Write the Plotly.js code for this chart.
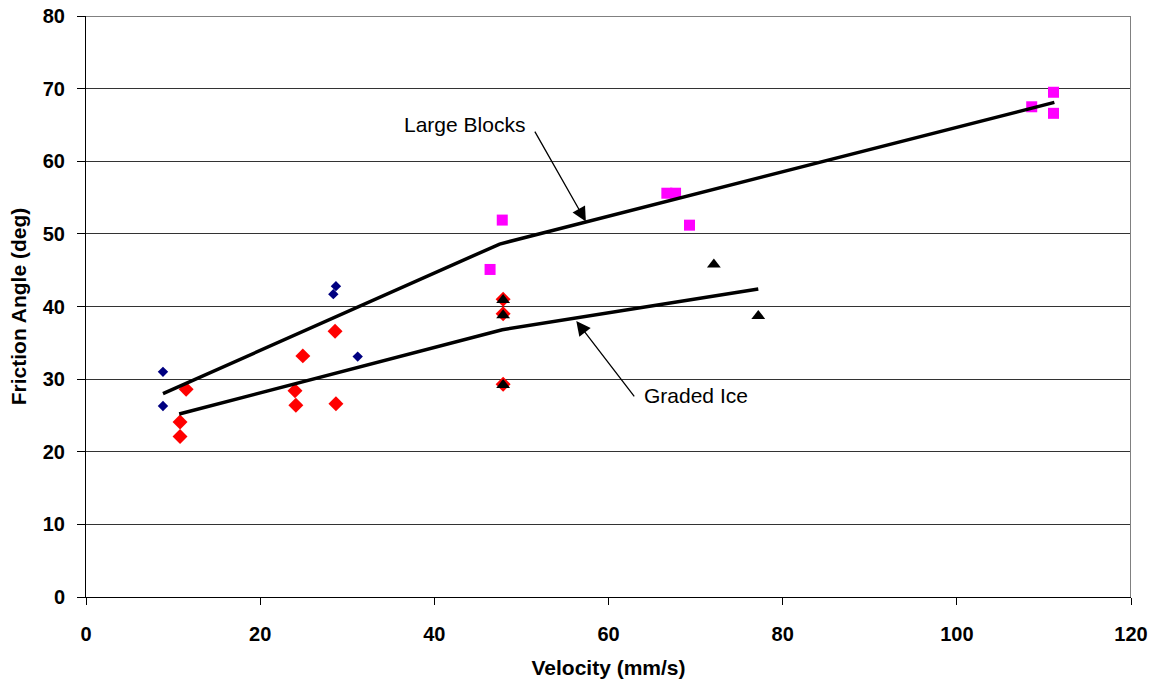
<!DOCTYPE html>
<html>
<head>
<meta charset="utf-8">
<script src="https://cdn.plot.ly/plotly-3.0.1.min.js"></script>
<style>
  html, body { margin: 0; padding: 0; background: #fff; }
  #chart { width: 1158px; height: 688px; }
</style>
</head>
<body>
<div id="chart"></div>
<script>
// Small navy diamonds
const navyX = [8.84, 8.84, 28.4, 28.7, 31.2];
const navyY = [31.0, 26.3, 41.7, 42.8, 33.1];

// Red diamonds
const redX = [11.5, 10.8, 10.8, 24.9, 24.0, 24.1, 28.6, 28.7, 47.9, 47.9, 47.9];
const redY = [28.6, 24.1, 22.1, 33.2, 28.4, 26.4, 36.6, 26.6, 41.0, 39.0, 29.3];

// Black triangles
const triX = [47.9, 47.9, 47.9, 72.1, 77.2];
const triY = [40.9, 38.8, 29.2, 45.8, 38.7];

// Magenta squares
const magX = [47.8, 46.4, 66.7, 67.7, 69.3, 108.6, 111.1, 111.1];
const magY = [51.9, 45.1, 55.6, 55.6, 51.2, 67.5, 69.5, 66.6];

// Trend lines
const blocksLineX = [8.84, 47.5, 111.2];
const blocksLineY = [28.0, 48.6, 68.1];
const gradedLineX = [10.7, 47.8, 77.2];
const gradedLineY = [25.2, 36.8, 42.4];

// Axis ticks
const xTicks = [0, 20, 40, 60, 80, 100, 120];
const yTicks = [0, 10, 20, 30, 40, 50, 60, 70, 80];

const FONT = 'Arial, "Liberation Sans", sans-serif';

const traces = [
  { x: navyX, y: navyY, mode: 'markers', type: 'scatter',
    marker: { symbol: 'diamond', size: 8, color: '#000080' } },
  { x: redX, y: redY, mode: 'markers', type: 'scatter',
    marker: { symbol: 'diamond', size: 11.5, color: '#FF0000' } },
  { x: triX, y: triY, mode: 'markers', type: 'scatter',
    marker: { symbol: 'triangle-up', size: 12, color: '#000000' } },
  { x: magX, y: magY, mode: 'markers', type: 'scatter',
    marker: { symbol: 'square', size: 11, color: '#FF00FF' } },
  { x: blocksLineX, y: blocksLineY, mode: 'lines', type: 'scatter',
    line: { color: '#000', width: 3.5 } },
  { x: gradedLineX, y: gradedLineY, mode: 'lines', type: 'scatter',
    line: { color: '#000', width: 3.5 } }
];

const layout = {
  width: 1158, height: 688,
  margin: { l: 86, r: 27, t: 16, b: 91 },
  paper_bgcolor: '#fff', plot_bgcolor: '#fff',
  showlegend: false,
  font: { family: FONT, color: '#000' },
  xaxis: {
    range: [0, 120], tickvals: xTicks, ticktext: xTicks.map(String),
    ticks: 'outside', ticklen: 7, tickcolor: '#000', tickwidth: 1,
    showline: true, linecolor: '#000', linewidth: 1,
    showgrid: false, zeroline: false,
    tickfont: { family: FONT, size: 20, weight: 700, color: '#000' },
    ticklabelstandoff: 12,
    title: { text: 'Velocity (mm/s)', font: { family: FONT, size: 21, weight: 700, color: '#000' }, standoff: 16 }
  },
  yaxis: {
    range: [0, 80], tickvals: yTicks, ticktext: yTicks.map(String),
    ticks: 'outside', ticklen: 8, tickcolor: '#000', tickwidth: 1,
    showline: true, linecolor: '#000', linewidth: 1,
    showgrid: true, gridcolor: '#333', gridwidth: 1, zeroline: false,
    tickfont: { family: FONT, size: 20, weight: 700, color: '#000' },
    ticklabelstandoff: 8,
    title: { text: 'Friction Angle (deg)', font: { family: FONT, size: 21, weight: 700, color: '#000' }, standoff: 10 }
  },
  shapes: [
    { type: 'line', xref: 'x', yref: 'y', x0: 0, x1: 120, y0: 80, y1: 80,
      line: { color: '#808080', width: 2 } },
    { type: 'line', xref: 'x', yref: 'y', x0: 120, x1: 120, y0: 0, y1: 80,
      line: { color: '#808080', width: 2 } }
  ],
  annotations: [
    { x: 43.5, y: 65.0, xref: 'x', yref: 'y', text: 'Large Blocks', showarrow: false,
      xanchor: 'center', yanchor: 'middle', font: { family: FONT, size: 21, color: '#000' } },
    { x: 57.4, y: 51.7, xref: 'x', yref: 'y', ax: 51.2, ay: 64.8, axref: 'x', ayref: 'y',
      text: ' ', showarrow: true, arrowhead: 2, arrowsize: 2.2, arrowwidth: 1.3, arrowcolor: '#000' },
    { x: 70.05, y: 27.8, xref: 'x', yref: 'y', text: 'Graded Ice', showarrow: false,
      xanchor: 'center', yanchor: 'middle', font: { family: FONT, size: 21, color: '#000' } },
    { x: 56.3, y: 38.0, xref: 'x', yref: 'y', ax: 63.3, ay: 27.1, axref: 'x', ayref: 'y',
      text: ' ', showarrow: true, arrowhead: 2, arrowsize: 2.2, arrowwidth: 1.3, arrowcolor: '#000' }
  ]
};

Plotly.newPlot('chart', traces, layout, { displayModeBar: false, staticPlot: true });
</script>
</body>
</html>
